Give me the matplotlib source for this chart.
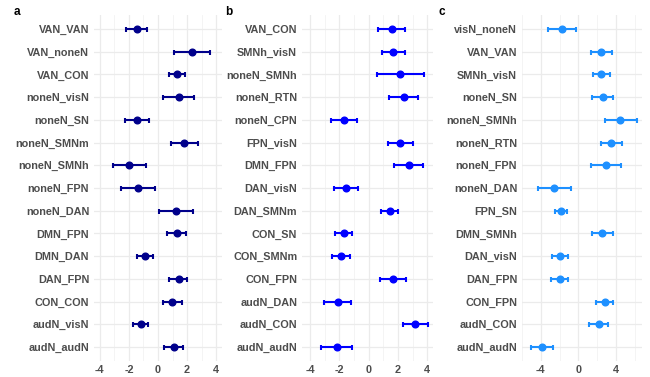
import numpy as np
import matplotlib.pyplot as plt

plt.rcParams['font.family'] = ['Liberation Sans', 'DejaVu Sans']

# panel a
labels_a = ["VAN_VAN", "VAN_noneN", "VAN_CON", "noneN_visN", "noneN_SN", "noneN_SMNm",
            "noneN_SMNh", "noneN_FPN", "noneN_DAN", "DMN_FPN", "DMN_DAN", "DAN_FPN",
            "CON_CON", "audN_visN", "audN_audN"]
est_a = [-1.47, 2.32, 1.31, 1.43, -1.47, 1.82, -1.98, -1.40, 1.22, 1.29, -0.90, 1.43, 0.97, -1.19, 1.08]
lo_a = [-2.19, 1.08, 0.74, 0.37, -2.28, 0.90, -3.10, -2.55, 0.07, 0.64, -1.45, 0.78, 0.34, -1.72, 0.44]
hi_a = [-0.76, 3.59, 1.88, 2.46, -0.64, 2.76, -0.80, -0.21, 2.39, 1.93, -0.37, 2.00, 1.63, -0.67, 1.70]

# panel b
labels_b = ["VAN_CON", "SMNh_visN", "noneN_SMNh", "noneN_RTN", "noneN_CPN", "FPN_visN",
            "DMN_FPN", "DAN_visN", "DAN_SMNm", "CON_SN", "CON_SMNm", "CON_FPN",
            "audN_DAN", "audN_CON", "audN_audN"]
est_b = [1.57, 1.70, 2.16, 2.41, -1.70, 2.16, 2.73, -1.53, 1.43, -1.70, -1.89, 1.68, -2.11, 3.18, -2.16]
lo_b = [0.66, 0.93, 0.59, 1.40, -2.57, 1.32, 1.75, -2.34, 0.82, -2.30, -2.52, 0.77, -3.05, 2.34, -3.25]
hi_b = [2.47, 2.47, 3.77, 3.38, -0.82, 3.00, 3.75, -0.75, 2.02, -1.16, -1.27, 2.54, -1.21, 4.04, -1.14]

# panel c
labels_c = ["visN_noneN", "VAN_VAN", "SMNh_visN", "noneN_SN", "noneN_SMNh", "noneN_RTN",
            "noneN_FPN", "noneN_DAN", "FPN_SN", "DMN_SMNh", "DAN_visN", "DAN_FPN",
            "CON_FPN", "audN_CON", "audN_audN"]
est_c = [-1.70, 2.42, 2.38, 2.56, 4.46, 3.48, 2.88, -2.55, -1.88, 2.53, -1.96, -1.99, 2.77, 2.17, -3.89]
lo_c = [-3.22, 1.29, 1.57, 1.43, 2.80, 2.42, 1.32, -4.28, -2.52, 1.40, -2.83, -2.94, 1.89, 1.15, -5.05]
hi_c = [-0.22, 3.58, 3.30, 3.72, 6.23, 4.60, 4.53, -0.82, -1.25, 3.69, -1.11, -1.07, 3.72, 3.16, -2.73]

W, H = 650, 377
fig = plt.figure(figsize=(W / 100, H / 100), dpi=100)

panels = [
    ("a", labels_a, est_a, lo_a, hi_a, "#00008B", 94, 222, (-4.4, 4.4), [-4, -2, 0, 2, 4], [-3, -1, 1, 3], 17),
    ("b", labels_b, est_b, lo_b, hi_b, "#0000FF", 302, 433, (-4.55, 4.4), [-4, -2, 0, 2, 4], [-3, -1, 1, 3], 229),
    ("c", labels_c, est_c, lo_c, hi_c, "#1E90FF", 522, 642, (-5.95, 6.75), [-4, 0, 4], [-6, -2, 2, 6], 442),
]

top, bottom = 15.4, 360.6
for tag, labels, est, lo, hi, col, x0, x1, xlim, major, minor, tx in panels:
    ax = fig.add_axes([x0 / W, 1 - bottom / H, (x1 - x0) / W, (bottom - top) / H])
    n = len(labels)
    y = np.arange(n)
    est = np.array(est)
    err = [est - np.array(lo), np.array(hi) - est]
    ax.errorbar(est, y, xerr=err, fmt="o", color=col, ms=4.8, elinewidth=1.5,
                capsize=1.8, capthick=1.5, zorder=3)
    ax.set_xlim(*xlim)
    ax.set_ylim(n - 0.4, -0.6)
    ax.set_xticks(major)
    ax.set_xticks(minor, minor=True)
    ax.set_xticklabels([str(v) for v in major])
    ax.set_yticks(y)
    ax.set_yticklabels(labels)
    ax.grid(True, which="major", color="#EBEBEB", lw=0.9)
    ax.grid(True, which="minor", axis="x", color="#F3F3F3", lw=0.6)
    ax.set_axisbelow(True)
    for s in ax.spines.values():
        s.set_visible(False)
    ax.tick_params(which="both", length=0)
    ax.tick_params(axis="y", pad=3.5)
    ax.tick_params(axis="x", pad=3)
    for t in ax.get_yticklabels() + ax.get_xticklabels():
        t.set_color("#4D4D4D")
        t.set_fontweight("bold")
        t.set_fontsize(7.8)
    fig.text(tx / W, 1 - 12 / H, tag, fontsize=8.5, fontweight="bold", ha="center", va="center")

fig.savefig("out.png", dpi=100)
